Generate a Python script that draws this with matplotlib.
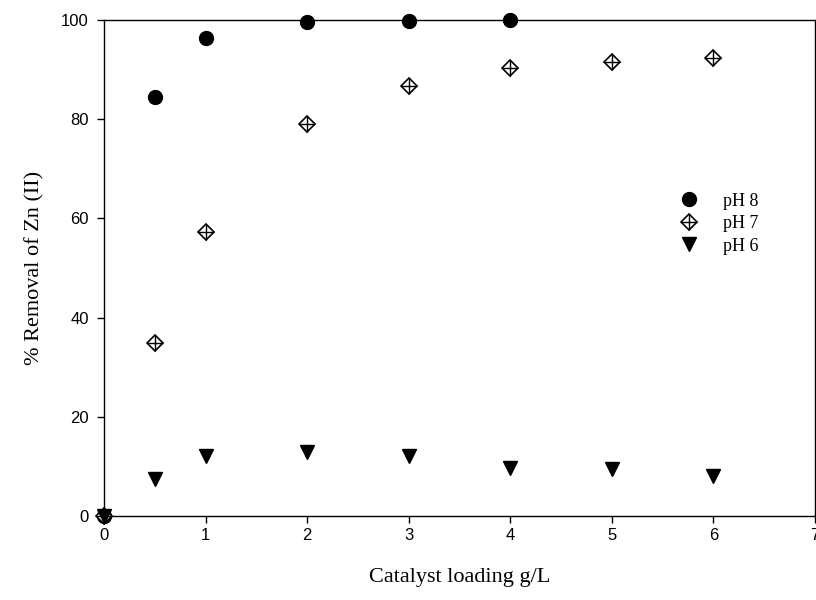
import numpy as np
import matplotlib
matplotlib.use("Agg")
from matplotlib import pyplot as plt
from matplotlib.legend_handler import HandlerTuple

plt.rcParams["font.family"] = ["Liberation Sans", "DejaVu Sans"]

# catalyst loading g/L
x_ph8 = [0, 0.5, 1, 2, 3, 4]
y_ph8 = [0, 84.5, 96.4, 99.6, 99.8, 100]

x_ph7 = [0, 0.5, 1, 2, 3, 4, 5, 6]
y_ph7 = [0, 34.9, 57.3, 79.0, 86.7, 90.3, 91.5, 92.3]

x_ph6 = [0, 0.5, 1, 2, 3, 4, 5, 6]
y_ph6 = [0, 7.5, 12.0, 12.9, 12.1, 9.7, 9.5, 8.0]

labels = ["pH 8", "pH 7", "pH 6"]

fig = plt.figure(figsize=(8.16, 6), dpi=100)
ax = fig.add_axes([0.1275, 0.14, 0.8713, 0.8267])

h8, = ax.plot(x_ph8, y_ph8, 'o', color='black', markersize=10, linestyle='none',
              zorder=3, clip_on=False)
h7a, = ax.plot(x_ph7, y_ph7, 'D', markerfacecolor='white', markeredgecolor='black',
               markersize=8.5, markeredgewidth=1.2, linestyle='none', zorder=3, clip_on=False)
h7b, = ax.plot(x_ph7, y_ph7, '+', color='black', markersize=11, markeredgewidth=1.0,
               linestyle='none', zorder=4, clip_on=False)
h6, = ax.plot(x_ph6, y_ph6, 'v', color='black', markersize=10, linestyle='none',
              zorder=3, clip_on=False)

ax.set_xlim(0, 7)
ax.set_ylim(0, 100)
ax.set_xticks(np.arange(0, 8, 1))
ax.set_yticks(np.arange(0, 101, 20))
ax.tick_params(direction='out', length=5, width=1, labelsize=12, top=False, right=False)
ax.tick_params(axis='y', pad=6)
for s in ax.spines.values():
    s.set_linewidth(1.0)

ax.set_xlabel("Catalyst loading g/L", fontsize=16, family="Liberation Serif", labelpad=18)
ax.set_ylabel("% Removal of Zn (II)", fontsize=16, family="Liberation Serif", labelpad=12)

ax.legend([h8, (h7a, h7b), h6], labels, handler_map={tuple: HandlerTuple(ndivide=1)},
          loc='upper left', bbox_to_anchor=(0.795, 0.67), frameon=False,
          prop={'family': 'Liberation Serif', 'size': 13}, handlelength=1.2,
          handletextpad=1.3, labelspacing=0.3, borderpad=0)

fig.savefig("out.png", dpi=100)
